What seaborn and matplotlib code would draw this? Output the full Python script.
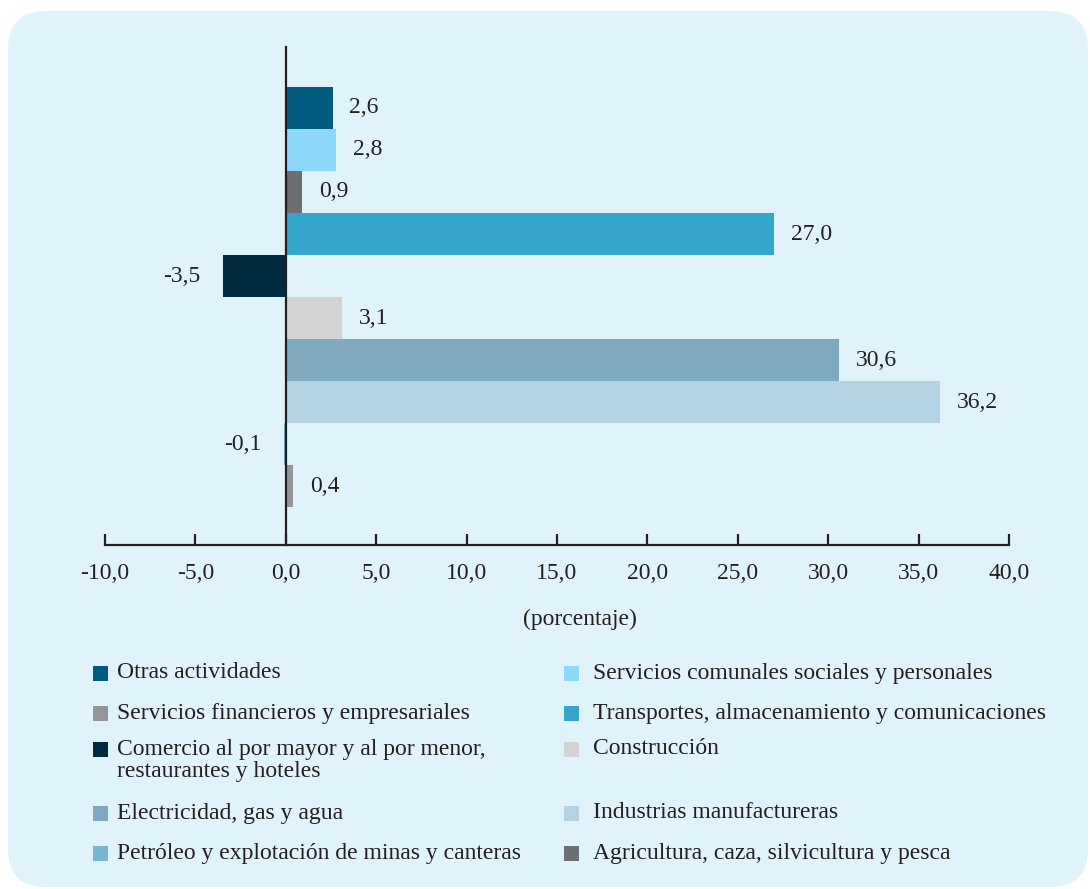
import matplotlib
matplotlib.use("Agg")
import matplotlib.pyplot as plt
from matplotlib.patches import Rectangle, FancyBboxPatch
import numpy as np
import pandas as pd
import seaborn as sns

# ---------------- data ----------------
bar_sectors = [
    "Otras actividades",
    "Servicios comunales sociales y personales",
    "Agricultura, caza, silvicultura y pesca",
    "Transportes, almacenamiento y comunicaciones",
    "Comercio al por mayor y al por menor,\nrestaurantes y hoteles",
    "Construcción",
    "Electricidad, gas y agua",
    "Industrias manufactureras",
    "Petróleo y explotación de minas y canteras",
    "Servicios financieros y empresariales",
]
bar_values = [2.6, 2.8, 0.9, 27.0, -3.5, 3.1, 30.6, 36.2, -0.1, 0.4]

legend_order = [
    "Otras actividades",
    "Servicios comunales sociales y personales",
    "Servicios financieros y empresariales",
    "Transportes, almacenamiento y comunicaciones",
    "Comercio al por mayor y al por menor,\nrestaurantes y hoteles",
    "Construcción",
    "Electricidad, gas y agua",
    "Industrias manufactureras",
    "Petróleo y explotación de minas y canteras",
    "Agricultura, caza, silvicultura y pesca",
]
sector_colors = {
    "Otras actividades": "#005b7f",
    "Servicios comunales sociales y personales": "#8dd8f8",
    "Servicios financieros y empresariales": "#939598",
    "Transportes, almacenamiento y comunicaciones": "#34a6cc",
    "Comercio al por mayor y al por menor,\nrestaurantes y hoteles": "#002b3f",
    "Construcción": "#d1d3d4",
    "Electricidad, gas y agua": "#7fa9bf",
    "Industrias manufactureras": "#b3d3e3",
    "Petróleo y explotación de minas y canteras": "#77b5d0",
    "Agricultura, caza, silvicultura y pesca": "#6d6e71",
}
x_ticks = [-10, -5, 0, 5, 10, 15, 20, 25, 30, 35, 40]
x_label = "(porcentaje)"

# ---------------- style ----------------
sns.set_theme(style="white")
plt.rcParams["font.family"] = ["Liberation Serif", "DejaVu Serif"]
plt.rcParams["axes.unicode_minus"] = False

W, H = 1090, 889
BG = "#e0f3fb"
INK = "#231f20"
FS = 17
fig = plt.figure(figsize=(W / 100, H / 100), dpi=100)
fig.patch.set_facecolor("white")

panel = FancyBboxPatch((8 / W, 2 / H), (1088 - 8) / W, (878 - 2) / H,
                       boxstyle="round,pad=0,rounding_size=0.035",
                       transform=fig.transFigure, facecolor=BG, edgecolor="none",
                       mutation_aspect=W / H, zorder=0)
fig.add_artist(panel)

ax = fig.add_axes([105 / W, 1 - 545 / H, (1009 - 105) / W, (545 - 47) / H])
ax.set_facecolor("none")

df = pd.DataFrame({"sector": bar_sectors, "valor": bar_values})
sns.barplot(data=df, x="valor", y="sector", hue="sector", order=bar_sectors,
            hue_order=bar_sectors, palette=sector_colors, dodge=False,
            saturation=1, width=1.0, legend=False, orient="y", ax=ax, linewidth=0)


def fmt(v):
    return f"{v:.1f}".replace(".", ",")


for cont in ax.containers:
    neg = cont.datavalues[0] < 0
    ax.bar_label(cont, labels=[fmt(v) for v in cont.datavalues],
                 padding=16 if neg else 12, fontsize=FS, color=INK)

ax.set_xlim(-10, 40)
ax.set_ylim(10.4, -1.45)
ax.set_xticks(x_ticks)
ax.set_xticklabels([fmt(t) for t in x_ticks], fontsize=FS, color=INK)
ax.set_xlabel("")
ax.set_ylabel("")
ax.tick_params(axis="y", left=False, labelleft=False)
ax.tick_params(axis="x", direction="in", length=8, width=1.6, color=INK, pad=13, bottom=True)
for s in ["top", "right"]:
    ax.spines[s].set_visible(False)
ax.spines["left"].set_position(("data", 0))
ax.spines["left"].set_color(INK)
ax.spines["left"].set_linewidth(1.6)
ax.spines["bottom"].set_color(INK)
ax.spines["bottom"].set_linewidth(1.6)
ax.spines["left"].set_zorder(5)

fig.text(580 / W, 1 - 619 / H, x_label, ha="center", va="center", fontsize=FS, color=INK)

# ---------------- legend (manual, two columns) ----------------
rows_y = [673, 673, 713, 713, 749, 749, 813, 813, 853, 853]
LINE_STEP = 23
for i, name in enumerate(legend_order):
    col = i % 2
    sx = 93 if col == 0 else 564
    tx = 117 if col == 0 else 593
    y = rows_y[i]
    fig.add_artist(Rectangle((sx / W, 1 - (y + 7.5) / H), 15 / W, 15 / H,
                             transform=fig.transFigure, facecolor=sector_colors[name],
                             edgecolor="none"))
    for k, line in enumerate(name.split("\n")):
        fig.text(tx / W, 1 - (y + k * LINE_STEP) / H, line, ha="left", va="center",
                 fontsize=FS, color=INK)

fig.savefig("out.png", dpi=100, facecolor="white")
